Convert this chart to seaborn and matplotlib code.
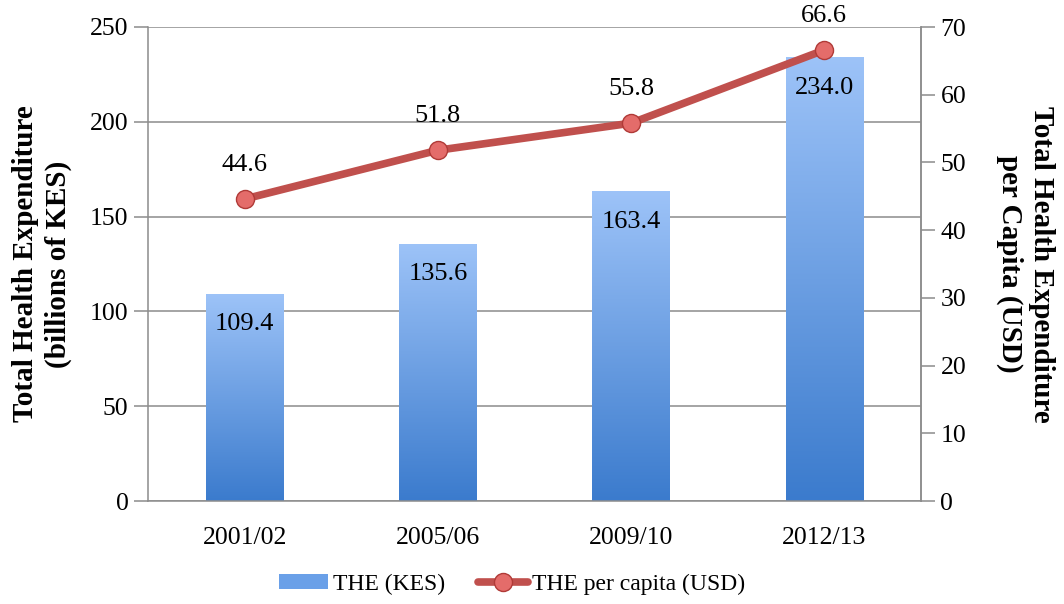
import numpy as np
import pandas as pd
import matplotlib
matplotlib.use('Agg')
import matplotlib.pyplot as plt
import seaborn as sns
from matplotlib.colors import LinearSegmentedColormap
from matplotlib.lines import Line2D
from matplotlib.patches import Patch

# ------------ data --------------
years = ['2001/02', '2005/06', '2009/10', '2012/13']
the_kes = [109.4, 135.6, 163.4, 234.0]
the_per_capita = [44.6, 51.8, 55.8, 66.6]

sns.set_style('white')
plt.rcParams['font.family'] = ['Liberation Serif', 'DejaVu Serif']
plt.rcParams['text.color'] = 'black'
plt.rcParams['axes.labelcolor'] = 'black'
plt.rcParams['xtick.labelcolor'] = 'black'
plt.rcParams['ytick.labelcolor'] = 'black'

df = pd.DataFrame({'year': years, 'kes': the_kes, 'usd': the_per_capita})

fig = plt.figure(figsize=(10.64, 6.04), dpi=100)
ax = fig.add_axes([148 / 1064, 1 - 501 / 604, 773 / 1064, 474 / 604])

sns.barplot(data=df, x='year', y='kes', ax=ax, width=0.4, color='#6aa0e8', zorder=2)
ax.set_ylim(0, 250)
ax.set_xlim(-0.5, 3.5)

# gradient fill for the bars
cmap = LinearSegmentedColormap.from_list('bar', ['#3b7bcd', '#9dc3f8'])
grad = np.linspace(0, 1, 256).reshape(-1, 1)
for bar in ax.patches:
    x0, y0 = bar.get_x(), bar.get_y()
    w, h = bar.get_width(), bar.get_height()
    bar.set_facecolor('none')
    bar.set_edgecolor('none')
    im = ax.imshow(grad, cmap=cmap, aspect='auto', origin='lower',
                   extent=[x0, x0 + w, y0, y0 + h], zorder=2)
    im.set_clip_path(bar)
    ax.text(x0 + w / 2, h - 16, f'{h:.1f}', ha='center', va='center', fontsize=19, zorder=5)

ax.set_aspect('auto')
ax.set_xlim(-0.5, 3.5)
ax.set_ylim(0, 250)
ax.set_yticks(range(0, 251, 50))
ax.yaxis.grid(True, color='#8c8c8c', linewidth=1.1, zorder=0)
ax.set_axisbelow(True)
ax.set_xlabel('')
ax.set_ylabel('Total Health Expenditure\n(billions of KES)', fontsize=21, fontweight='bold',
              labelpad=13, linespacing=1.25)
ax.set_xticks([0, 1, 2, 3])
ax.set_xticklabels(years)
ax.set_xticks([-0.5, 0.5, 1.5, 2.5, 3.5], minor=True)
ax.tick_params(axis='x', which='major', length=0, labelsize=18.5, pad=19)
ax.tick_params(axis='x', which='minor', length=7, color='#8c8c8c', width=1.1)
ax.tick_params(axis='y', length=10, color='#8c8c8c', width=1.1, labelsize=18.5, pad=4)
for s in ['top']:
    ax.spines[s].set_visible(False)
for s in ['left', 'bottom', 'right']:
    ax.spines[s].set_color('#8c8c8c')
    ax.spines[s].set_linewidth(1.1)

ax2 = ax.twinx()
sns.lineplot(x=[0, 1, 2, 3], y=the_per_capita, ax=ax2, color='#c0504d', linewidth=5.5,
             marker='o', markersize=13, markerfacecolor='#e46c6a', markeredgecolor='#b03a37',
             markeredgewidth=1, zorder=4)
for i, v in enumerate(the_per_capita):
    ax2.text(i, v + 5, f'{v:.1f}', ha='center', va='center', fontsize=19, zorder=5)
ax2.set_ylim(0, 70)
ax2.set_yticks(range(0, 71, 10))
ax2.set_xlim(-0.5, 3.5)
ax2.tick_params(axis='y', length=10, color='#8c8c8c', width=1.1, labelsize=18.5, pad=4)
ax2.set_ylabel('Total Health Expenditure\nper Capita (USD)', fontsize=21, fontweight='bold',
               rotation=270, labelpad=64, linespacing=1.25)
for s in ['top', 'left', 'bottom']:
    ax2.spines[s].set_visible(False)
ax2.spines['right'].set_color('#8c8c8c')
ax2.spines['right'].set_linewidth(1.1)

handles = [Patch(facecolor='#6aa0e8', edgecolor='none'),
           Line2D([0], [0], color='#c0504d', linewidth=5.5, marker='o', markersize=13,
                  markerfacecolor='#e46c6a', markeredgecolor='#b03a37')]
fig.legend(handles, ['THE (KES)', 'THE per capita (USD)'], loc='center', bbox_to_anchor=(512 / 1064, 1 - 584 / 604),
           ncol=2, frameon=False, fontsize=17, handlelength=2.1, handleheight=0.6,
           handletextpad=0.2, columnspacing=1.4)

fig.savefig('out.png', dpi=100)
